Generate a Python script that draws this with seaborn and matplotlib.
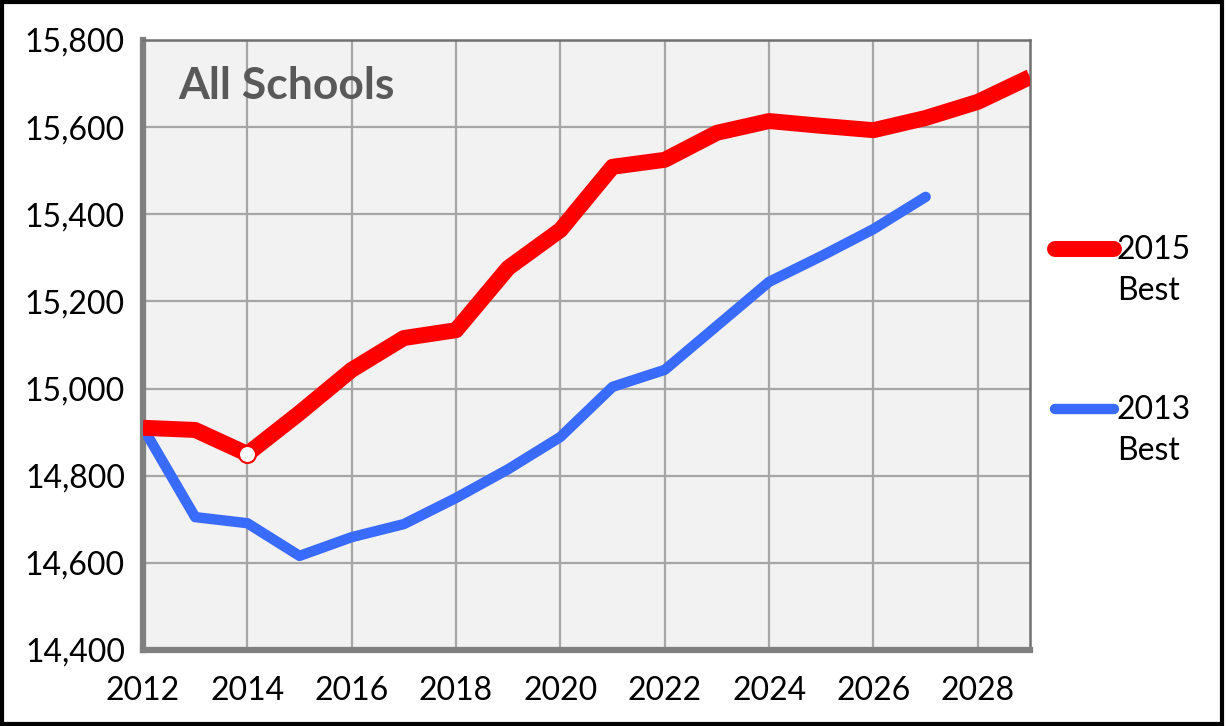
import numpy as np
import pandas as pd

import matplotlib
matplotlib.use("Agg")
import matplotlib.pyplot as plt
from matplotlib.lines import Line2D
from matplotlib.patches import Rectangle
from matplotlib.ticker import FuncFormatter
import seaborn as sns

# data
years = list(range(2012, 2030))
best_2015 = [14910, 14905, 14850, 14944, 15043, 15116, 15134, 15277, 15364,
             15509, 15525, 15587, 15614, 15603, 15593, 15621, 15658, 15715]
years_2013 = list(range(2012, 2028))
best_2013 = [14910, 14705, 14691, 14616, 14659, 14689, 14749, 14815, 14889,
             15004, 15043, 15144, 15245, 15304, 15366, 15440]
marker_year = [2014]
marker_value = [14850]

title = "All Schools"
label_2015 = "2015\nBest"
label_2013 = "2013\nBest"

RED = "#ff0000"
BLUE = "#3a6bff"
GRAY = "#808080"

sns.set_theme(style="white")
plt.rcParams["font.family"] = ["Lato", "DejaVu Sans"]

df15 = pd.DataFrame({"year": years, "value": best_2015})
df13 = pd.DataFrame({"year": years_2013, "value": best_2013})

fig = plt.figure(figsize=(12.26, 7.26), dpi=100)
ax = fig.add_axes([143 / 1226, 1 - 650 / 726, 887 / 1226, 610 / 726])
ax.set_facecolor("#f2f2f2")

sns.lineplot(data=df13, x="year", y="value", ax=ax, color=BLUE, lw=7.5,
             solid_capstyle="round", solid_joinstyle="round", zorder=3)
sns.lineplot(data=df15, x="year", y="value", ax=ax, color=RED, lw=11.5,
             solid_capstyle="butt", solid_joinstyle="round", zorder=4)
ax.scatter(marker_year, marker_value, s=150, color="white", edgecolor=RED,
           linewidth=1.5, zorder=5)

ax.set_xlim(2012, 2029)
ax.set_ylim(14400, 15800)
ax.set_xticks(range(2012, 2030, 2))
ax.set_yticks(range(14400, 15801, 200))
ax.yaxis.set_major_formatter(FuncFormatter(lambda v, p: f"{int(v):,}"))
ax.grid(True, color="#a6a6a6", lw=1.6, zorder=1)
ax.set_axisbelow(True)
ax.set_xlabel("")
ax.set_ylabel("")

for side in ["left", "bottom"]:
    ax.spines[side].set_color(GRAY)
    ax.spines[side].set_linewidth(4.5)
for side in ["top", "right"]:
    ax.spines[side].set_color("#707070")
    ax.spines[side].set_linewidth(1.8)
ax.tick_params(axis="both", direction="out", length=7, width=4.5, color=GRAY,
               labelsize=23, labelcolor="black")
ax.tick_params(axis="x", pad=12)
ax.tick_params(axis="y", pad=6)

ax.text(0.04, 0.925, title, transform=ax.transAxes, fontsize=32,
        fontweight="bold", color="#595959", va="center", ha="left")

# legend drawn at figure level
for y_line, col, lw, lab in [(249, RED, 11.5, label_2015), (409, BLUE, 7.5, label_2013)]:
    fy = 1 - y_line / 726
    fig.add_artist(Line2D([1055 / 1226, 1114 / 1226], [fy, fy], color=col, lw=lw,
                          solid_capstyle="round", transform=fig.transFigure))
    fig.text(1117 / 1226, fy + 14 / 726, lab, fontsize=23, va="top", ha="left",
             linespacing=1.45, color="black")

fig.add_artist(Rectangle((0.002, 0.003), 0.995, 0.994, transform=fig.transFigure,
                         fill=False, edgecolor="black", lw=3))

fig.savefig("out.png", dpi=100)
plt.close(fig)
